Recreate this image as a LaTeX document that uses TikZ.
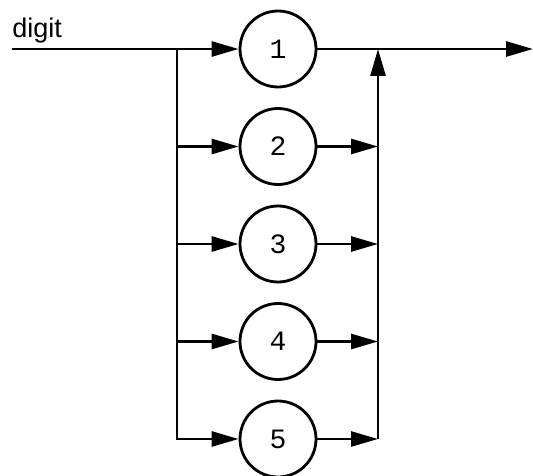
\documentclass[tikz,border=0pt]{standalone}
\usepackage{fontspec}
\setmainfont{Liberation Sans}
\newfontfamily\digitfont{Liberation Mono}
\usetikzlibrary{arrows.meta}
\begin{document}
\begin{tikzpicture}[x=1pt,y=-1pt,line width=2.8pt,
    digitnode/.style={draw,circle,minimum size=76pt,inner sep=0pt,font=\digitfont\fontsize{28}{28}\selectfont},
    flow/.style={-{Triangle[length=27pt,width=15pt]}}]
  \useasboundingbox (0,0) rectangle (533,476);
  \node[anchor=base west,inner sep=0pt,font=\fontsize{27}{27}\selectfont] (label) at (11,38) {digit};
  \coordinate (start) at (12,49);
  \coordinate (split) at (177,49);
  \coordinate (join) at (378,49);
  \coordinate (end) at (533,49);
  \node[digitnode] (d1) at (278,49) {1};
  \node[digitnode] (d2) at (278,146.5) {2};
  \node[digitnode] (d3) at (278,244) {3};
  \node[digitnode] (d4) at (278,341.5) {4};
  \node[digitnode] (d5) at (278,439) {5};
  \draw (start) -- (split);
  \draw[flow] (split) -- (d1);
  \draw[flow] (d1) -- (end);
  \draw[flow] (split) |- (d5);
  \begin{scope}[flow]
    \draw (split |- d2) -- (d2);
    \draw (split |- d3) -- (d3);
    \draw (split |- d4) -- (d4);
    \draw (d2) -- (join |- d2);
    \draw (d3) -- (join |- d3);
    \draw (d4) -- (join |- d4);
    \draw (d5) -- (join |- d5);
    \draw (join |- d5) -- (join);
  \end{scope}
\end{tikzpicture}
\end{document}
